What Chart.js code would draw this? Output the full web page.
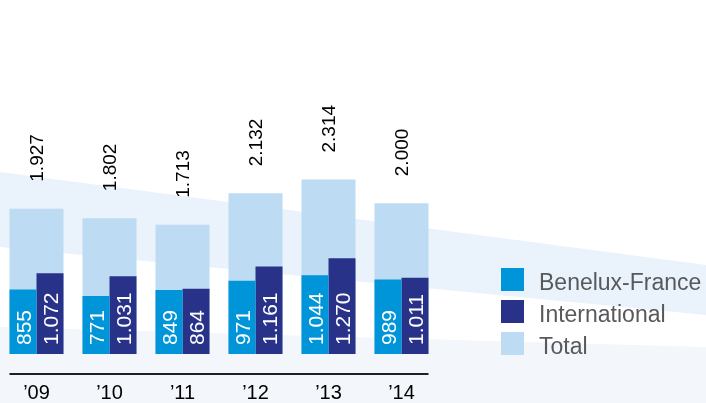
<!DOCTYPE html>
<html>
<head>
<meta charset="utf-8">
<script src="https://cdn.jsdelivr.net/npm/chart.js@4/dist/chart.umd.min.js"></script>
<style>
  body { margin: 0; background: #fff; }
  #wrap { position: relative; width: 706px; height: 403px; overflow: hidden; }
  canvas { position: absolute; left: 0; top: 0; }
  .lg-box { position: absolute; left: 501px; width: 23px; height: 23px; }
  .lg-txt { position: absolute; left: 539px; font: 23px 'Liberation Sans', Arial, sans-serif; line-height: 23px; color: #58595b; white-space: nowrap; }
</style>
</head>
<body>
<div id="wrap">
  <canvas id="chart" width="706" height="403"></canvas>
  <div class="lg-box" style="top:268px;background:#0095d8"></div>
  <div class="lg-txt" style="top:271px">Benelux-France</div>
  <div class="lg-box" style="top:300px;background:#283289"></div>
  <div class="lg-txt" style="top:303px">International</div>
  <div class="lg-box" style="top:332px;background:#bddcf3"></div>
  <div class="lg-txt" style="top:335px">Total</div>
</div>
<script>
const years = ['\u201909', '\u201910', '\u201911', '\u201912', '\u201913', '\u201914'];
const benelux = [855, 771, 849, 971, 1044, 989];
const international = [1072, 1031, 864, 1161, 1270, 1011];
const total = [1927, 1802, 1713, 2132, 2314, 2000];

const narrow = "'Liberation Sans Narrow', 'Liberation Sans', Arial, sans-serif";

function fmt(v) {
    return String(v).replace(/\B(?=(\d{3})+(?!\d))/g, '.');
}

// light diagonal bands behind the chart
const bandsPlugin = {
    id: 'bands',
    beforeDraw(chart) {
        const ctx = chart.ctx;
        ctx.save();
        ctx.fillStyle = '#ffffff';
        ctx.fillRect(0, 0, chart.width, chart.height);
        ctx.fillStyle = '#eaf2fb';
        ctx.beginPath();
        ctx.moveTo(0, 172); ctx.lineTo(706, 265); ctx.lineTo(706, 315); ctx.lineTo(0, 247);
        ctx.closePath(); ctx.fill();
        ctx.fillStyle = '#f3f7fc';
        ctx.beginPath();
        ctx.moveTo(0, 327); ctx.lineTo(706, 347); ctx.lineTo(706, 403); ctx.lineTo(0, 403);
        ctx.closePath(); ctx.fill();
        ctx.restore();
    }
};

// value labels + baseline rule
const labelsPlugin = {
    id: 'labels',
    afterDatasetsDraw(chart) {
        const ctx = chart.ctx;
        const totMeta = chart.getDatasetMeta(2);

        // axis rule under the groups
        const first = totMeta.data[0], last = totMeta.data[totMeta.data.length - 1];
        ctx.save();
        ctx.strokeStyle = '#231f20';
        ctx.lineWidth = 2;
        ctx.beginPath();
        ctx.moveTo(first.x - first.width / 2, chart.chartArea.bottom);
        ctx.lineTo(last.x + last.width / 2, chart.chartArea.bottom);
        ctx.stroke();

        ctx.textAlign = 'left';
        ctx.textBaseline = 'alphabetic';

        // totals above bars
        ctx.font = '19px ' + narrow;
        ctx.fillStyle = '#000';
        totMeta.data.forEach((bar, i) => {
            ctx.save();
            ctx.translate(bar.x, bar.y - 27);
            ctx.rotate(-Math.PI / 2);
            ctx.fillText(fmt(total[i]), 0, 19 * 0.36);
            ctx.restore();
        });

        // values inside bars
        ctx.font = '21px ' + narrow;
        ctx.fillStyle = '#fff';
        [0, 1].forEach(d => {
            const vals = d === 0 ? benelux : international;
            chart.getDatasetMeta(d).data.forEach((bar, i) => {
                ctx.save();
                ctx.translate(bar.x, bar.base - 9);
                ctx.rotate(-Math.PI / 2);
                ctx.fillText(fmt(vals[i]), 0, 21 * 0.36);
                ctx.restore();
            });
        });
        ctx.restore();
    }
};

new Chart(document.getElementById('chart'), {
    type: 'bar',
    data: {
        labels: years,
        datasets: [
            { label: 'Benelux-France', data: benelux, backgroundColor: '#0095d8', order: 1,
              barPercentage: 1, categoryPercentage: 0.74 },
            { label: 'International', data: international, backgroundColor: '#283289', order: 1,
              barPercentage: 1, categoryPercentage: 0.74 },
            { label: 'Total', data: total, backgroundColor: '#bddcf3', order: 2,
              grouped: false, barPercentage: 0.74, categoryPercentage: 1 }
        ]
    },
    options: {
        responsive: false,
        animation: false,
        layout: { padding: { left: 0, right: 268, top: 0, bottom: 0 } },
        plugins: { legend: { display: false }, tooltip: { enabled: false } },
        scales: {
            x: {
                grid: { display: false, drawTicks: false },
                border: { display: false },
                ticks: { color: '#000', padding: 9, font: { family: narrow, size: 20, lineHeight: 1 } },
                afterFit(scale) { scale.height = 29; }
            },
            y: { display: false, min: -265, max: 4695 }
        }
    },
    plugins: [bandsPlugin, labelsPlugin]
});
</script>
</body>
</html>
